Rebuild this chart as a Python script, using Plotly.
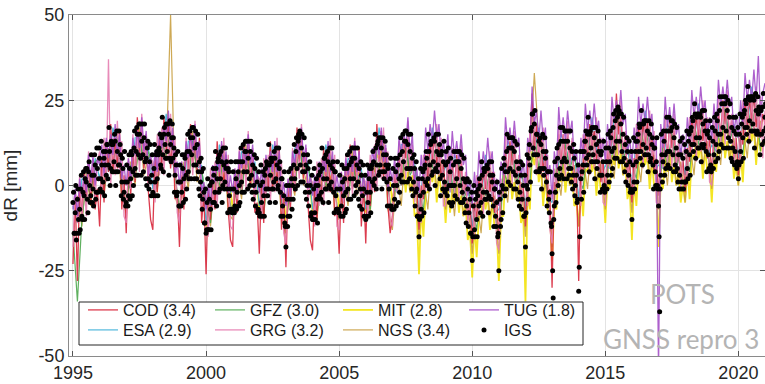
import numpy as np
import plotly.graph_objects as go

# ---------------- data (mm) ----------------
# IGS combination, 48 samples per year starting 1995.0 (one row per year)
IGS_START, IGS_PER_YEAR = 1995.0, 48
igs_mm = [
    -5,-2,-14,-14,-8,0,-16,-14,-4,-1,-10,-14, -7,-13,-1,3,-9,-10,-2,4,-3,-10,2,5, 1,5,-4,-8,4,7,0,-5,-3,9,3,-5, -1,-6,3,9,6,-4,-2,11,5,-2,2,11,
    8,-1,2,13,6,-2,1,10,8,-3,6,10, 3,12,12,2,6,17,10,0,5,13,12,4, 12,4,7,15,13,0,4,16,10,4,6,16, 6,12,9,-3,1,8,5,-4,-2,10,1,-6,
    -5,6,1,-6,-3,9,5,-4,2,10,9,-3, 4,0,11,16,5,3,10,17,15,3,9,18, 15,18,8,3,13,18,9,4,14,18,7,2, 8,0,11,13,2,-1,7,12,1,-3,3,9,
    -2,-3,5,12,1,-3,9,10,2,-3,9,11, 10,15,6,5,14,20,9,4,15,17,12,8, 18,8,10,18,15,3,8,19,12,7,14,18, 8,14,11,-2,3,9,6,-3,-2,10,1,-6,
    -6,6,1,-6,-2,9,5,-5,2,9,8,-4, 3,-1,10,15,4,2,10,16,14,2,9,17, 14,17,6,2,11,16,6,2,12,15,4,-1, 7,-3,1,8,4,-7,-4,5,-2,-11,-11,-1,
    -14,-13,-5,2,-13,-13,-4,0,-7,-13,1,1, -5,5,3,-5,-2,10,5,-6,2,7,8,-2, 9,-1,2,10,7,-5,0,11,6,-1,1,11, 5,7,-1,-8,5,4,-3,-7,-1,7,-7,-8,
    -7,4,-1,-8,-6,7,2,-7,-2,7,4,-6, 0,-5,7,11,1,-2,7,12,4,-2,10,13, 10,13,4,-1,8,13,2,0,10,13,3,-2, 6,-4,0,9,5,-6,-2,8,1,-8,-7,4,
    -8,-9,0,6,-5,-9,1,4,-3,-9,3,5, -1,7,6,-3,-1,12,6,-5,3,8,7,-1, 8,-1,1,10,8,-5,2,11,6,-1,0,11, 5,7,-2,-9,2,2,-6,-9,-3,4,-11,-12,
    -18,0,-4,-12,-9,4,0,-9,-4,5,2,-7, 0,-4,6,12,2,-1,10,14,5,0,13,15, 14,16,6,1,11,15,4,1,9,14,4,-2, 6,-4,0,9,5,-6,-2,7,0,-9,-8,3,
    -10,-10,-1,5,-8,-10,0,2,-4,-11,0,3, -3,6,4,-4,-2,11,5,-5,2,8,8,-1, 9,-1,2,10,7,-5,0,11,6,-1,1,11, 5,7,-2,-8,4,4,-3,-7,-1,7,-7,-8,
    -8,3,-1,-9,-6,6,1,-9,-3,5,2,-8, -2,-7,5,9,-1,-4,6,10,2,-4,7,11, 8,11,2,-3,8,11,0,-2,6,11,1,-4, 5,-6,-1,7,3,-7,-3,6,-1,-9,-9,3,
    -10,-9,-2,6,-5,-9,2,5,-2,-8,5,6, 1,10,7,0,2,15,11,-1,6,12,13,3, 14,4,6,14,11,-1,4,14,9,2,4,13, 6,9,1,-6,5,6,-1,-6,2,8,-6,-7,
    -7,5,0,-7,-4,8,4,-6,0,8,6,-5, 2,-2,9,14,3,1,10,15,7,1,13,16, 13,16,5,1,12,15,5,2,10,15,5,-1, 8,-3,1,9,5,-6,-2,7,-1,-9,-9,2,
    -15,-10,-3,5,-7,-9,2,4,-2,-8,5,6, 1,10,8,0,2,15,10,-1,6,12,13,3, 13,4,7,14,13,0,5,15,10,4,6,15, 9,12,2,-3,9,10,3,-1,7,13,1,-2,
    6,10,-1,-3,7,11,0,-5,4,8,0,-6, 0,-5,6,10,0,-3,7,10,2,-4,7,10, 7,10,0,-5,5,9,-2,-5,2,8,-4,-8, 1,-11,-6,2,-1,-12,-8,1,-4,-14,-14,-2,
    -22,-15,-6,0,-13,-15,-4,-2,-10,-15,-3,-1, -6,2,0,-8,-5,7,3,-9,-2,5,4,-4, 5,-4,-2,6,5,-8,-3,7,3,-4,-4,7, 1,3,-6,-12,-1,-1,-9,-12,-5,1,-15,-14,
    -25,-2,-4,-12,-10,5,0,-8,-1,8,6,-3, 4,-1,10,15,4,1,11,14,5,0,11,14, 11,14,4,-1,10,13,3,-1,7,12,1,-4, 5,-6,-2,7,3,-7,-4,6,0,-9,-9,3,
    -18,-8,0,9,-1,-4,8,12,6,1,16,17, 21,21,11,9,18,22,9,4,15,15,9,4, 13,4,5,14,12,-1,5,15,10,3,5,14, 8,10,1,-6,4,4,-4,-8,-2,4,-11,-12,
    -20,-25,-33,-10,-6,7,-2,-5,3,11,8,0, 12,2,5,17,13,3,7,17,13,2,8,16, 13,16,7,2,13,16,5,3,11,16,5,1, 10,-1,3,12,8,-3,0,10,3,-5,-4,6,
    -31,-24,-15,10,2,-4,4,10,6,-2,10,13, 13,16,8,6,15,20,9,4,15,16,11,7, 17,7,9,17,14,2,7,17,12,5,7,16, 10,13,3,-2,9,10,3,-1,7,13,0,-2,
    -1,11,7,-1,3,15,11,1,7,16,14,3, 10,5,17,21,11,8,19,22,13,8,20,23, 21,22,13,7,18,21,10,7,15,20,8,4, 12,1,6,14,10,0,3,13,7,-2,-1,10,
    -10,-2,6,14,1,-1,10,13,7,1,13,15, 10,18,17,8,10,22,18,6,12,18,19,9, 19,9,11,19,16,4,9,19,15,7,8,18, 12,14,6,-1,11,11,4,0,7,14,0,-1,
    -6,-15,-37,-1,3,15,9,1,7,16,13,3, 9,5,16,20,10,6,16,20,10,5,16,19, 17,19,9,4,14,18,6,4,11,17,5,1, 9,-1,3,13,9,-1,1,14,8,-1,1,12,
    1,1,10,16,5,2,13,15,9,3,16,17, 12,20,19,10,12,24,21,8,14,20,21,11, 21,11,14,21,20,7,12,22,18,11,12,22, 16,19,10,4,15,16,9,5,14,19,6,4,
    5,17,13,5,9,20,16,7,12,21,19,8, 15,10,22,26,15,12,24,26,17,11,24,26, 24,26,16,11,22,25,14,11,20,24,13,8, 17,7,11,20,16,6,10,20,15,5,7,17,
    2,6,15,21,10,7,18,20,14,8,21,22, 17,25,24,15,17,29,26,13,19,25,26,16, 26,16,18,26,25,11,16,27,22,15,16,26, 21,23,15,9,22,22,15,12,23,27,16,13,
    20,24,17,14,
]

# Analysis centres, monthly (12 per year) from 1995.0
AC_START, AC_PER_YEAR = 1995.0, 12
cod_mm = [
    -23,-3,-28,0,-9,5,-5,7,-5,7,-7,-1,
    -12,8,-5,13,4,18,4,14,5,16,-7,3,
    -14,7,-3,10,1,20,9,19,5,15,-2,-10,
    -13,8,-2,14,5,20,10,20,5,15,-4,-2,
    -18,3,-7,12,4,18,5,14,4,14,-11,-2,
    -26,-1,-10,2,-7,13,2,12,-1,9,-7,-16,
    -18,3,-8,8,-1,13,3,13,0,10,-8,-5,
    -20,1,-11,8,-1,13,-1,9,0,11,-13,-2,
    -24,1,-7,6,-2,17,7,16,2,11,-6,-16,
    -19,1,-10,5,-4,11,1,11,-2,8,-9,-6,
    -20,0,-11,7,-1,12,-1,9,0,11,-12,0,
    -17,4,-6,7,-2,18,7,16,2,11,-6,-14,
    -9,3,-1,9,2,14,8,14,4,10,-3,0,
    -13,0,-4,9,2,13,7,15,6,12,2,7,
    -3,7,-1,7,-1,9,2,7,-3,2,-10,-5,
    -17,-5,-10,2,-5,5,-1,7,-2,4,-8,-4,
    -16,-1,-2,11,3,13,6,11,2,7,-5,0,
    -12,6,13,27,10,18,8,14,4,10,-4,-1,
    -30,1,-1,15,6,15,7,15,7,13,1,4,
    -28,6,3,15,7,18,11,16,7,12,1,7,
    -3,10,6,17,10,27,15,20,9,14,2,7,
    -5,8,5,18,10,19,12,19,10,15,4,8,
    -3,10,6,17,8,19,11,16,6,11,1,8,
    -2,11,7,20,12,21,14,22,13,19,8,14,
    3,16,11,22,14,25,18,23,14,19,8,14,
    3,16,12,25,17,26,19,27,17,23,14,21,
    18,
]
grg_mm = [
    -18,-1,-11,3,-10,2,-9,10,-2,8,-4,7,
    10,-3,14,1,37,0,14,3,19,4,13,-9,
    -11,8,-1,15,2,15,4,21,7,15,-1,8,
    7,-5,15,3,17,3,18,7,21,6,14,-8,
    -11,7,-1,14,1,14,3,19,5,12,-6,0,
    -3,-15,5,-7,7,-6,9,-2,14,-1,9,-12,
    -13,5,-4,11,-2,10,-1,16,3,11,-5,3,
    2,-10,8,-4,9,-5,9,-2,14,-1,7,-14,
    -17,2,-5,11,-1,12,2,18,4,11,-5,2,
    1,-12,7,-6,8,-6,9,-2,14,-1,9,-12,
    -13,4,-5,9,-4,8,-3,14,1,9,-7,2,
    1,-10,9,-2,12,-1,14,2,17,1,10,-10,
    -12,6,-2,13,0,13,2,19,4,12,-5,2,
    0,-11,9,-2,12,-1,14,3,18,3,14,-6,
    -6,10,-2,11,-3,8,-4,12,-3,4,-12,-3,
    -4,-16,3,-9,5,-9,6,-5,10,-5,4,-17,
    -19,2,-3,15,1,12,0,16,2,9,-7,2,
    1,-6,17,10,20,3,14,3,17,2,9,-13,
    -17,5,-1,18,3,15,2,19,6,14,-2,5,
    4,-6,15,5,18,3,17,5,20,4,14,-5,
    -6,13,5,21,8,20,9,25,9,16,0,9,
    8,-3,18,7,20,5,19,7,22,6,16,-5,
    -6,13,5,21,6,18,5,21,6,13,-1,10,
    11,0,20,9,22,7,21,10,25,10,20,1,
    0,19,10,26,12,24,12,28,14,21,6,16,
    16,5,25,14,27,12,26,15,29,14,26,8,
    22,
]
tug_mm = [
    -7,-1,-9,2,-3,3,-2,9,1,9,0,8,
    6,12,3,14,8,15,9,18,9,15,2,6,
    0,8,1,14,9,16,11,20,10,16,3,9,
    3,10,4,16,11,18,13,22,11,17,3,7,
    0,7,1,13,8,15,10,18,8,13,-2,1,
    -7,0,-6,6,1,9,4,13,4,10,-2,3,
    -2,5,-2,10,5,11,6,15,6,12,-1,4,
    -2,5,-3,9,3,10,4,13,4,10,-4,1,
    -6,2,-3,10,6,13,9,17,7,12,-1,3,
    -3,3,-4,7,2,9,4,13,4,10,-2,3,
    -2,4,-3,8,3,9,4,13,4,10,-3,3,
    -3,5,-2,11,6,14,9,17,7,12,-1,5,
    1,8,2,14,9,16,11,20,9,15,1,5,
    -2,9,2,17,10,18,13,22,14,18,8,13,
    7,15,4,16,8,13,7,15,6,9,-3,2,
    -6,4,-4,10,3,10,5,14,6,10,-2,2,
    -6,7,3,20,12,17,11,19,11,14,2,7,
    -1,14,10,29,18,22,13,22,13,17,3,6,
    -4,10,5,23,14,20,13,22,15,19,7,10,
    2,14,8,24,16,22,16,24,16,19,8,14,
    7,18,11,26,19,25,20,28,18,21,9,14,
    6,17,11,26,18,24,18,26,18,21,10,14,
    -55,18,11,26,17,23,16,24,15,18,8,15,
    9,20,13,28,20,26,20,29,21,25,14,20,
    13,24,16,31,23,29,23,31,23,26,15,21,
    14,25,18,33,25,31,25,34,25,38,20,27,
    30,
]
# MIT, monthly from 2000.0
MIT_START = 2000.0
mit_mm = [
    -12,-6,-6,0,-1,4,3,6,1,4,-1,-1,
    -7,-1,-2,4,3,6,5,8,3,6,0,0,
    -7,-1,-3,3,1,5,3,6,1,4,-3,-3,
    -11,-4,-3,4,4,8,8,10,4,6,0,-1,
    -8,-3,-4,1,0,4,3,6,1,4,-1,-1,
    -7,-2,-3,2,1,4,3,6,1,4,-2,-1,
    -8,-1,-2,5,4,9,8,10,4,6,0,1,
    -5,0,0,3,2,5,-2,4,-2,3,-9,-8,
    -26,-6,-15,-2,-2,6,1,5,-5,4,-2,-1,
    -11,-1,-8,-1,-5,1,-8,-3,-9,-5,-16,-13,
    -27,-11,-21,-9,-9,-2,-7,-3,-13,-4,-12,-12,
    -28,-9,-9,3,-1,5,-4,1,-4,0,-11,-8,
    -34,-1,-7,10,6,10,1,5,-6,3,-7,-8,
    -22,-6,-7,6,1,8,-2,4,0,5,-6,-5,
    -12,-1,-9,5,4,10,4,7,-3,5,-2,0,
    -11,2,-1,9,6,13,5,10,3,7,-4,-1,
    -16,2,-6,7,6,12,6,9,-1,7,0,0,
    -18,2,-1,9,4,11,1,6,0,4,-5,0,
    -5,5,-4,9,8,14,8,12,2,11,4,6,
    -5,8,4,14,10,17,8,13,8,12,2,6,
    0,10,1,14,13,19,13,17,6,15,10,13,
    12,
]
# ESA, GFZ, NGS: 6 samples per year from 1995.0
BI_START, BI_PER_YEAR = 1995.0, 6
esa_mm = [
    -6,-11,2,1,-2,8,  2,10,4,17,10,1,  1,-1,14,14,7,11,  -1,11,7,21,12,2,
    1,-1,13,13,5,6,  -11,1,-3,12,5,-3,  -1,-4,10,9,3,7,  -6,4,-1,12,5,-5,
    -5,-5,11,12,4,7,  -7,3,-2,12,5,-3,  -1,-5,8,7,1,5,  -7,5,2,17,8,-2,
    0,-2,12,12,4,7,  -8,5,2,17,9,2,  6,-2,9,6,-3,0,  -12,-1,-5,9,1,-8,
    -7,-3,13,10,2,5,  -7,13,10,17,8,-3,  -5,-1,15,12,6,10,  -4,11,8,20,11,2,
    6,5,20,19,9,12,  0,14,10,22,13,4,  6,5,18,15,6,11,  3,16,12,24,16,8,
    12,10,24,22,14,18,  8,21,17,29,20,14,
]
gfz_mm = [
    -14,-34,-10,1,-3,7,  8,-2,10,5,14,2,  -7,6,2,14,6,10,  5,-1,13,9,16,3,
    -7,6,1,13,4,5,  -5,-11,3,0,9,-2,  -9,3,-2,9,2,6,  0,-8,5,0,9,-4,
    -13,2,-1,12,3,6,  -1,-9,4,0,9,-2,  -9,2,-4,7,0,4,  -1,-7,8,5,12,-1,
    -8,5,0,12,3,6,  -2,-7,8,5,13,3,  -2,5,-3,6,-4,-1,  -6,-13,1,-3,5,-7,
    -15,4,1,10,1,4,  -1,1,16,5,12,-2,  -13,6,3,12,5,9,  2,-1,14,8,15,3,
    -2,12,8,19,8,11,  6,2,16,10,17,5,  -2,12,6,15,5,10,  9,4,18,12,20,9,
    4,17,12,22,13,17,  14,9,23,17,24,10,
]
ngs_mm = [
    -15,-3,-12,4,-6,6,  9,-3,11,4,15,-4,  -8,7,0,17,3,9,  6,-2,14,8,50,-3,
    -8,7,-1,16,1,4,  -4,-12,4,-1,10,-8,  -10,4,-4,12,-1,5,  1,-9,6,-1,10,-10,
    -14,3,-3,15,0,5,  0,-10,5,-1,10,-8,  -10,3,-6,10,-3,3,  0,-8,9,4,13,-7,
    -13,4,-6,13,-2,3,  -16,2,-7,13,-1,7,  -7,4,-9,7,-9,-4,  -20,-4,-14,5,-9,-3,
    -20,3,-5,11,-4,1,  -15,10,33,13,-2,2,  -18,5,-3,13,0,6,  -12,8,-1,16,1,7,
    -7,11,2,20,3,8,  -8,11,1,18,3,9,  -7,11,0,16,0,7,  -5,13,3,20,6,13,
    -1,16,6,23,8,14,  0,18,8,25,10,19,
]

ac_labels = {"COD": "COD (3.4)", "ESA": "ESA (2.9)", "GFZ": "GFZ (3.0)",
             "GRG": "GRG (3.2)", "MIT": "MIT (2.8)", "NGS": "NGS (3.4)",
             "TUG": "TUG (1.8)", "IGS": "IGS"}
x_ticks = [1995, 2000, 2005, 2010, 2015, 2020]
y_ticks = [-50, -25, 0, 25, 50]


def times(start, per_year, n):
    return start + np.arange(n) / per_year


# (key, values, start, samples/yr, colour, line width, legend id) in drawing order
series = [
    ("MIT", mit_mm, MIT_START, AC_PER_YEAR, "#f3e30c", 1.8, "legend5"),
    ("NGS", ngs_mm, BI_START, BI_PER_YEAR, "#c9a043", 1.2, "legend6"),
    ("ESA", esa_mm, BI_START, BI_PER_YEAR, "#3fb0d8", 1.2, "legend2"),
    ("GFZ", gfz_mm, BI_START, BI_PER_YEAR, "#4ea84e", 1.2, "legend3"),
    ("COD", cod_mm, AC_START, AC_PER_YEAR, "#d9283c", 1.3, "legend"),
    ("GRG", grg_mm, AC_START, AC_PER_YEAR, "#e67fb2", 1.3, "legend4"),
    ("TUG", tug_mm, AC_START, AC_PER_YEAR, "#a54fc8", 1.3, "legend7"),
]

fig = go.Figure()
for key, vals, start, per, col, lw, leg in series:
    fig.add_trace(go.Scatter(
        x=times(start, per, len(vals)), y=vals, mode="lines",
        name=ac_labels[key], line=dict(color=col, width=lw),
        opacity=0.9, legend=leg))

fig.add_trace(go.Scatter(
    x=times(IGS_START, IGS_PER_YEAR, len(igs_mm)), y=igs_mm, mode="markers",
    name=ac_labels["IGS"], marker=dict(color="black", size=5),
    legend="legend8"))

W, H = 765, 384
ML, MR, MT, MB = 69, 0, 15, 28
pw, ph = W - ML - MR, H - MT - MB


def px(xp):
    return (xp - ML) / pw


def py(yp):
    return (H - MB - yp) / ph


axis_common = dict(
    showline=True, linecolor="#8a8a8a", linewidth=1, mirror="ticks",
    ticks="inside", ticklen=5, tickcolor="#555555",
    showgrid=True, gridcolor="#e3e3e3", gridwidth=1, zeroline=False,
    tickfont=dict(family="Liberation Sans", size=18, color="#262626"),
)


def leg(xp, yp):
    return dict(x=px(xp), y=py(yp), yanchor="top", xanchor="left",
                bgcolor="rgba(0,0,0,0)", borderwidth=0, orientation="v",
                font=dict(family="Liberation Sans", size=16, color="#1a1a1a"))


cols = [83, 210, 338, 464]
rows = [293, 313]

fig.update_layout(
    width=W, height=H, margin=dict(l=ML, r=MR, t=MT, b=MB),
    paper_bgcolor="white", plot_bgcolor="white", showlegend=True,
    xaxis=dict(range=[1994.85, 2021.0], tickvals=x_ticks,
               ticktext=[str(v) for v in x_ticks], **axis_common),
    yaxis=dict(range=[-50, 50], tickvals=y_ticks,
               ticktext=[str(v) for v in y_ticks],
               title=dict(text="dR [mm]", font=dict(family="Liberation Sans", size=19, color="#262626")),
               **axis_common),
    legend=leg(cols[0], rows[0]),   # COD
    legend2=leg(cols[0], rows[1]),  # ESA
    legend3=leg(cols[1], rows[0]),  # GFZ
    legend4=leg(cols[1], rows[1]),  # GRG
    legend5=leg(cols[2], rows[0]),  # MIT
    legend6=leg(cols[2], rows[1]),  # NGS
    legend7=leg(cols[3], rows[0]),  # TUG
    legend8=leg(cols[3], rows[1]),  # IGS
    shapes=[dict(type="rect", xref="paper", yref="paper",
                 x0=px(79), x1=px(583), y0=py(345), y1=py(302),
                 line=dict(color="#262626", width=1), fillcolor="white",
                 layer="above")],
    annotations=[
        dict(text="POTS", xref="paper", yref="paper", x=px(682), y=py(294),
             xanchor="center", yanchor="middle", showarrow=False,
             font=dict(family="Lato", size=26, color="#b4b4b4")),
        dict(text="GNSS repro 3", xref="paper", yref="paper", x=px(681), y=py(339),
             xanchor="center", yanchor="middle", showarrow=False,
             font=dict(family="Lato", size=26, color="#b4b4b4")),
    ],
)

fig.write_html("out.html", config={"displayModeBar": False})
